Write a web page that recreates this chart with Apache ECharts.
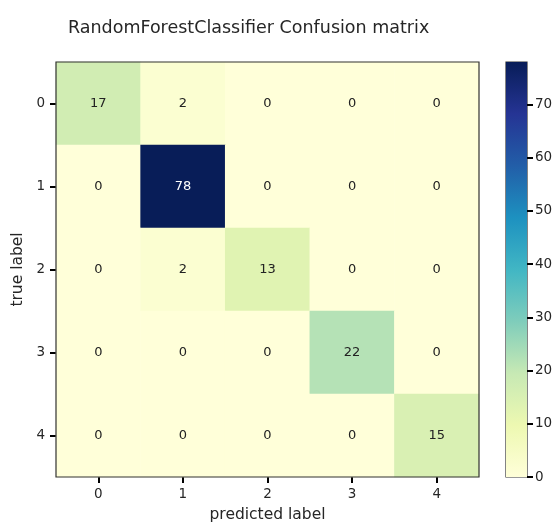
<!DOCTYPE html>
<html>
<head>
<meta charset="utf-8" />
<title>Confusion matrix</title>
<script src="https://cdn.jsdelivr.net/npm/echarts@6/dist/echarts.min.js"></script>
<style>
  html, body { margin: 0; padding: 0; background: #fff; }
  #chart { width: 558px; height: 522px; }
</style>
</head>
<body>
<div id="chart"></div>
<script>
// labels of the classes
var classes = ['0', '1', '2', '3', '4'];
// rows = true label, columns = predicted label
var row0 = [17, 2, 0, 0, 0];
var row1 = [0, 78, 0, 0, 0];
var row2 = [0, 2, 13, 0, 0];
var row3 = [0, 0, 0, 22, 0];
var row4 = [0, 0, 0, 0, 15];
var matrix = [row0, row1, row2, row3, row4];
var maxValue = 78;
var colorbarTicks = [0, 10, 20, 30, 40, 50, 60, 70];

// YlGnBu
var ylgnbu = ['#ffffd9', '#edf8b1', '#c7e9b4', '#7fcdbb', '#41b6c4', '#1d91c0', '#225ea8', '#253494', '#081d58'];

var cells = [];
for (var i = 0; i < matrix.length; i++) {
    for (var j = 0; j < matrix[i].length; j++) {
        // white text on dark cells, like matplotlib's thresh
        cells.push({
            value: [j, i, matrix[i][j]],
            label: { color: matrix[i][j] > maxValue / 2 ? '#fff' : '#222' }
        });
    }
}

var gradStops = [];
for (var k = 0; k < ylgnbu.length; k++) {
    gradStops.push({ offset: 1 - k / (ylgnbu.length - 1), color: ylgnbu[k] });
}

var font = 'DejaVu Sans';
var txt = '#262626';

function catTick() {
    return { show: true, alignWithLabel: true, length: 6, lineStyle: { color: '#000', width: 2 } };
}

var myChart = echarts.init(document.getElementById('chart'));

var option = {
    backgroundColor: '#fff',
    animation: false,
    textStyle: { fontFamily: font },
    title: {
        text: 'RandomForestClassifier Confusion matrix',
        left: 63,
        top: 14,
        textStyle: { fontFamily: font, fontSize: 17.5, fontWeight: 'normal', color: txt }
    },
    grid: [
        { left: 56, top: 62, width: 423, height: 415, outerBoundsMode: 'none' },
        { left: 506, top: 62, width: 21, height: 415, outerBoundsMode: 'none', show: true, borderColor: '#333', borderWidth: 1.2, backgroundColor: 'transparent' }
    ],
    xAxis: [
        {
            type: 'category',
            gridIndex: 0,
            data: classes,
            name: 'predicted label',
            nameLocation: 'middle',
            nameGap: 30,
            nameTextStyle: { fontFamily: font, fontSize: 15.5, color: txt },
            axisLine: { show: false },
            axisTick: catTick(),
            axisLabel: { fontFamily: font, fontSize: 13.5, color: txt, margin: 10 },
            splitLine: { show: false }
        },
        {
            type: 'category',
            gridIndex: 1,
            data: [''],
            show: false
        }
    ],
    yAxis: [
        {
            type: 'category',
            gridIndex: 0,
            data: classes,
            inverse: true,
            name: 'true label',
            nameLocation: 'middle',
            nameGap: 28,
            nameRotate: 90,
            nameTextStyle: { fontFamily: font, fontSize: 15.5, color: txt },
            axisLine: { show: false },
            axisTick: catTick(),
            axisLabel: { fontFamily: font, fontSize: 13.5, color: txt, margin: 11 },
            splitLine: { show: false }
        },
        {
            type: 'value',
            gridIndex: 1,
            position: 'right',
            min: 0,
            max: maxValue,
            interval: 10,
            axisLine: { show: false },
            axisTick: {
                show: true, length: 6, lineStyle: { color: '#000', width: 2 }
            },
            axisLabel: {
                show: true,
                showMaxLabel: false,
                fontFamily: font, fontSize: 13.5, color: txt, margin: 8,
                formatter: function (v) { return colorbarTicks.indexOf(v) >= 0 ? String(v) : ''; }
            },
            splitLine: { show: false }
        }
    ],
    visualMap: {
        type: 'continuous',
        show: false,
        min: 0,
        max: maxValue,
        seriesIndex: 0,
        inRange: { color: ylgnbu }
    },
    series: [
        {
            type: 'heatmap',
            xAxisIndex: 0,
            yAxisIndex: 0,
            data: cells,
            label: {
                show: true,
                fontFamily: font,
                fontSize: 13,
                formatter: function (p) { return String(p.value[2]); }
            },
            itemStyle: { borderWidth: 0 }
        },
        {
            type: 'bar',
            xAxisIndex: 1,
            yAxisIndex: 1,
            data: [maxValue],
            barWidth: '100%',
            silent: true,
            itemStyle: {
                color: new echarts.graphic.LinearGradient(0, 0, 0, 1, gradStops)
            }
        }
    ],
    // frame around the matrix, drawn above the cells
    graphic: [{
        type: 'rect',
        z: 100,
        shape: { x: 56, y: 62, width: 423, height: 415 },
        style: { fill: null, stroke: '#333', lineWidth: 1.2 },
        silent: true
    }]
};

myChart.setOption(option);
</script>
</body>
</html>
